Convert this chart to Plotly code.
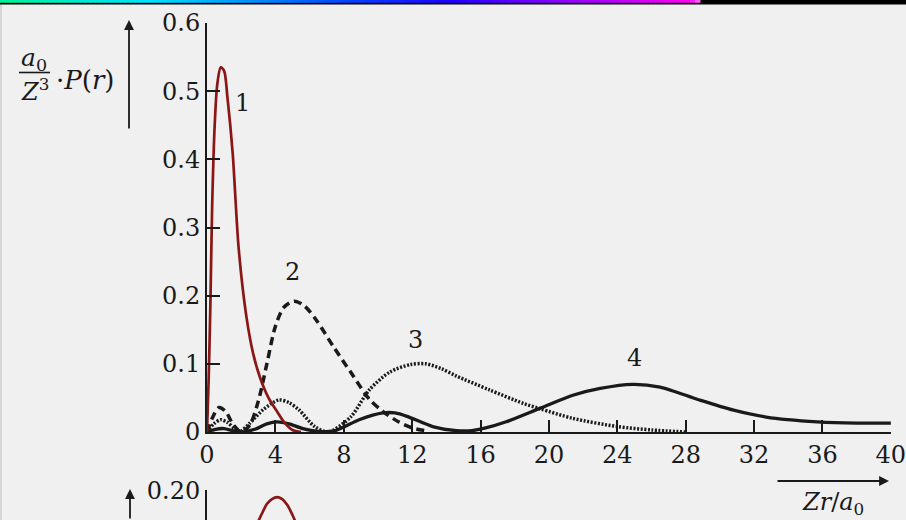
import plotly.graph_objects as go

# ---------------- data ----------------
x1 = [0, 0.1, 0.2, 0.3, 0.45, 0.6, 0.8, 1.0, 1.2, 1.5, 1.85, 2.3, 2.7, 3.1, 3.6, 4.1, 4.5, 5.0, 5.5]
y1 = [0, 0.08, 0.19, 0.33, 0.45, 0.51, 0.535, 0.53, 0.49, 0.41, 0.27, 0.17, 0.115, 0.08, 0.05, 0.03, 0.015, 0.003, 0]

x2 = [0, 0.3, 0.7, 1.1, 1.5, 2.0, 2.5, 3.0, 3.5, 4.0, 4.5, 5.1, 5.7, 6.4, 7.4, 8.4, 9.5, 10.3, 11.2, 12.0, 13.0]
y2 = [0, 0.02, 0.036, 0.03, 0.012, 0, 0.01, 0.045, 0.10, 0.155, 0.183, 0.192, 0.185, 0.164, 0.125, 0.088, 0.048, 0.03, 0.015, 0.006, 0.001]

x3 = [0, 0.4, 0.8, 1.2, 1.6, 1.9, 2.5, 3.3, 4.2, 4.8, 5.4, 6.3, 7.1, 8.4, 9.5, 10.7, 11.9, 12.8, 13.7, 14.6, 16.5, 18.5, 19.5, 21.4, 24.0, 26.0, 28.0]
y3 = [0, 0.012, 0.018, 0.014, 0.005, 0, 0.013, 0.033, 0.047, 0.043, 0.032, 0.008, 0, 0.022, 0.062, 0.088, 0.099, 0.1, 0.093, 0.082, 0.062, 0.042, 0.034, 0.02, 0.008, 0.003, 0]

x4 = [0, 0.5, 1.0, 1.5, 2.0, 2.8, 3.5, 4.1, 4.8, 5.6, 6.5, 7.5, 8.9, 10.3, 11.0, 11.7, 13.2, 14.6, 15.5, 16.3, 17.5, 19.5, 21.4, 23.0, 24.9, 26.5, 28.8, 30.8, 32.7, 35.7, 38.0, 40.0]
y4 = [0, 0.004, 0.005, 0.002, 0, 0.004, 0.012, 0.015, 0.012, 0.005, 0.001, 0.002, 0.018, 0.028, 0.028, 0.023, 0.008, 0.002, 0.002, 0.006, 0.015, 0.035, 0.054, 0.064, 0.07, 0.066, 0.047, 0.032, 0.022, 0.015, 0.013, 0.013]

# fragment of the next figure (cut off at the bottom)
xb = [2.9, 3.2, 3.5, 3.8, 4.1, 4.4, 4.7, 5.0, 5.3]
yb = [0.165, 0.176, 0.186, 0.191, 0.193, 0.191, 0.185, 0.175, 0.163]

x_ticks = list(range(0, 41, 4))
y_ticks = [0, 0.1, 0.2, 0.3, 0.4, 0.5, 0.6]
y_tick_labels = ["0", "0.1", "0.2", "0.3", "0.4", "0.5", "0.6"]

curve_labels = ["1", "2", "3", "4"]
label_x = [2.05, 5.0, 12.2, 25.0]
label_y = [0.482, 0.235, 0.135, 0.108]

# ---------------- figure ----------------
W, H = 906, 520
ML, MR, MT, MB = 207, 15, 23, 0
PW, PH = W - ML - MR, H - MT - MB


def px(x):
    return (x - ML) / PW


def py(y):
    return (H - MB - y) / PH


BG = "#f0f0f0"
INK = "#1a1a1a"
RED = "#8a1616"
SERIF = "DejaVu Serif"
FS = 24

fig = go.Figure()
fig.add_trace(go.Scatter(x=x4, y=y4, mode="lines", line=dict(color=INK, width=3.3, shape="spline", smoothing=0.8), hoverinfo="skip"))
fig.add_trace(go.Scatter(x=x3, y=y3, mode="lines", line=dict(color=INK, width=3.5, dash="2px,1.6px", shape="spline", smoothing=0.8), hoverinfo="skip"))
fig.add_trace(go.Scatter(x=x2, y=y2, mode="lines", line=dict(color=INK, width=3.5, dash="8px,5px", shape="spline", smoothing=0.8), hoverinfo="skip"))
fig.add_trace(go.Scatter(x=x1, y=y1, mode="lines", line=dict(color=RED, width=2.7, shape="spline", smoothing=0.8), hoverinfo="skip"))
fig.add_trace(go.Scatter(x=xb, y=yb, xaxis="x2", yaxis="y2", mode="lines", line=dict(color=RED, width=2.7, shape="spline", smoothing=0.8), hoverinfo="skip"))

main_bottom = py(432)
frag_top = py(490)

fig.update_layout(
    width=W, height=H,
    margin=dict(l=ML, r=MR, t=MT, b=MB, pad=0, autoexpand=False),
    paper_bgcolor=BG, plot_bgcolor=BG,
    showlegend=False,
    font=dict(family=SERIF, size=FS, color=INK),
    xaxis=dict(domain=[0, 1], range=[0, 40.01], anchor="y", showline=True, linecolor=INK, linewidth=2,
               ticks="inside", ticklen=12, tickwidth=1.6, tickcolor=INK, automargin=False,
               ticklabeloverflow="allow",
               tickvals=x_ticks, showgrid=False, zeroline=False,
               tickfont=dict(family=SERIF, size=FS, color=INK)),
    yaxis=dict(domain=[main_bottom, 1], range=[0, 0.6001], anchor="x", showline=True, linecolor=INK, linewidth=2,
               ticks="inside", ticklen=13, tickwidth=1.6, tickcolor=INK, automargin=False,
               ticklabeloverflow="allow",
               tickvals=y_ticks, ticktext=y_tick_labels, showgrid=False, zeroline=False,
               tickfont=dict(family=SERIF, size=FS, color=INK)),
    xaxis2=dict(domain=[0, 1], range=[0, 40.01], anchor="y2", visible=False, automargin=False),
    yaxis2=dict(domain=[0, frag_top], range=[0.17, 0.2001], anchor="x2", showline=True, linecolor=INK, linewidth=2,
                ticks="inside", ticklen=13, tickwidth=1.6, tickcolor=INK, automargin=False,
                ticklabeloverflow="allow",
                tickvals=[0.2], ticktext=["0.20"], showgrid=False, zeroline=False,
                tickfont=dict(family=SERIF, size=FS, color=INK)),
)

# curve number labels
for t, lx, ly in zip(curve_labels, label_x, label_y):
    fig.add_annotation(x=lx, y=ly, xref="x", yref="y", text=t, showarrow=False,
                       font=dict(family=SERIF, size=FS, color=INK))

# y-axis label: a0/Z^3 . P(r)
fig.add_annotation(x=px(19), y=py(59), xref="paper", yref="paper", xanchor="left", yanchor="middle",
                   text="<i>a</i><sub>0</sub>", showarrow=False, font=dict(family=SERIF, size=25, color=INK))
fig.add_annotation(x=px(19), y=py(90), xref="paper", yref="paper", xanchor="left", yanchor="middle",
                   text="<i>Z</i><sup>3</sup>", showarrow=False, font=dict(family=SERIF, size=24, color=INK))
fig.add_annotation(x=px(54), y=py(80), xref="paper", yref="paper", xanchor="left", yanchor="middle",
                   text="·<i>P</i>(<i>r</i>)", showarrow=False, font=dict(family=SERIF, size=26, color=INK))
fig.add_shape(type="line", xref="paper", yref="paper", x0=px(19), x1=px(50), y0=py(72.5), y1=py(72.5),
              line=dict(color=INK, width=1.6))

# axis arrows
fig.add_annotation(x=px(129), y=py(20), xref="paper", yref="paper", ax=0, ay=110, text="", showarrow=True,
                   arrowhead=2, arrowsize=1.1, arrowwidth=1.8, arrowcolor=INK)
fig.add_annotation(x=px(889), y=py(481), xref="paper", yref="paper", ax=-113, ay=0, text="", showarrow=True,
                   arrowhead=2, arrowsize=1.1, arrowwidth=1.8, arrowcolor=INK)
fig.add_annotation(x=px(800), y=py(503), xref="paper", yref="paper", xanchor="left", yanchor="middle",
                   text="<i>Zr</i>/<i>a</i><sub>0</sub>", showarrow=False, font=dict(family=SERIF, size=FS, color=INK))

# fragment of the next figure
fig.add_annotation(x=px(130), y=py(489), xref="paper", yref="paper", ax=0, ay=50, text="", showarrow=True,
                   arrowhead=2, arrowsize=1.1, arrowwidth=1.8, arrowcolor=INK)
fig.add_annotation(x=px(20), y=py(527), xref="paper", yref="paper", xanchor="left", yanchor="middle",
                   text="<i>a</i><sub>0</sub>", showarrow=False, font=dict(family=SERIF, size=25, color=INK))

# scan decorations: left strip, top black line and colour bar
fig.add_shape(type="rect", xref="paper", yref="paper", x0=px(0), x1=px(2), y0=py(520), y1=py(0),
              fillcolor="#d6d6d6", line=dict(width=0), layer="below")
fig.add_shape(type="rect", xref="paper", yref="paper", x0=px(0), x1=px(906), y0=py(4.5), y1=py(0),
              fillcolor="#000000", line=dict(width=0))
stops = [(0, (0, 240, 150)), (150, (0, 225, 255)), (330, (0, 80, 255)), (450, (30, 0, 255)),
         (560, (140, 0, 255)), (690, (255, 0, 240)), (700, (255, 120, 250))]


def grad(x):
    for (xa, ca), (xb_, cb) in zip(stops[:-1], stops[1:]):
        if xa <= x <= xb_:
            t = (x - xa) / (xb_ - xa)
            return "rgb(%d,%d,%d)" % tuple(round(a + (b - a) * t) for a, b in zip(ca, cb))
    return "rgb(255,0,240)"


step = 5
for xs in range(0, 700, step):
    fig.add_shape(type="rect", xref="paper", yref="paper", x0=px(xs), x1=px(xs + step + 0.5),
                  y0=py(2.8), y1=py(0), fillcolor=grad(xs + step / 2), line=dict(width=0))

fig.write_html(
    "out.html",
    config={"displayModeBar": False},
    post_script="document.body.style.margin='0';document.body.style.overflow='hidden';"
                "document.body.style.background='" + BG + "';",
)
